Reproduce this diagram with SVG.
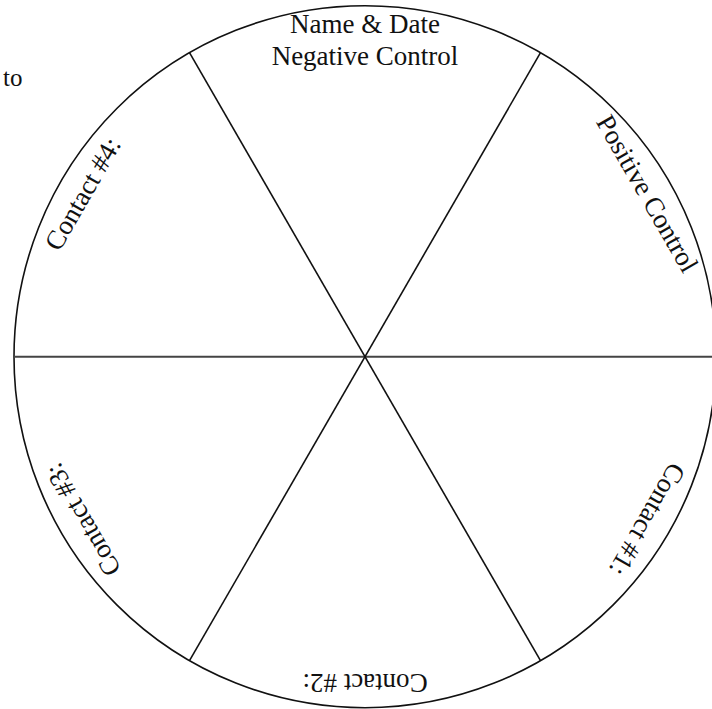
<svg xmlns="http://www.w3.org/2000/svg" width="712" height="709" viewBox="0 0 712 709">
<style>
.t{font-family:"Liberation Serif","Times New Roman",serif;font-size:27px;fill:#111;text-anchor:middle}
.ln{stroke:#111;stroke-width:1.6;fill:none}
</style>
<rect width="712" height="709" fill="#fff"/>
<text x="3" y="86" style="font-family:'Liberation Serif',serif;font-size:25px;fill:#111">to</text>
<g id="wheel">
<circle cx="365" cy="356.7" r="351" class="ln"/>
</g>
<g id="connectors">
<line x1="14" y1="356.7" x2="716" y2="356.7" stroke="#444" stroke-width="2"/>
<line x1="189.5" y1="52.7" x2="540.5" y2="660.7" class="ln"/>
<line x1="540.5" y1="52.7" x2="189.5" y2="660.7" class="ln"/>
</g>
<g id="top"><text class="t" x="365" y="33">Name &amp; Date</text><text class="t" x="365" y="65">Negative Control</text></g>
<g id="positive"><text class="t" x="639.5" y="198.2" transform="rotate(60 639.5 198.2)">Positive Control</text></g>
<g id="contact1"><text class="t" x="639.5" y="515.2" transform="rotate(120 639.5 515.2)">Contact #1:</text></g>
<g id="contact2"><text class="t" x="365" y="673.7" transform="rotate(180 365 673.7)">Contact #2:</text></g>
<g id="contact3"><text class="t" x="90.5" y="515.2" transform="rotate(-120 90.5 515.2)">Contact #3:</text></g>
<g id="contact4"><text class="t" x="90.5" y="198.2" transform="rotate(-60 90.5 198.2)">Contact #4:</text></g>
</svg>
